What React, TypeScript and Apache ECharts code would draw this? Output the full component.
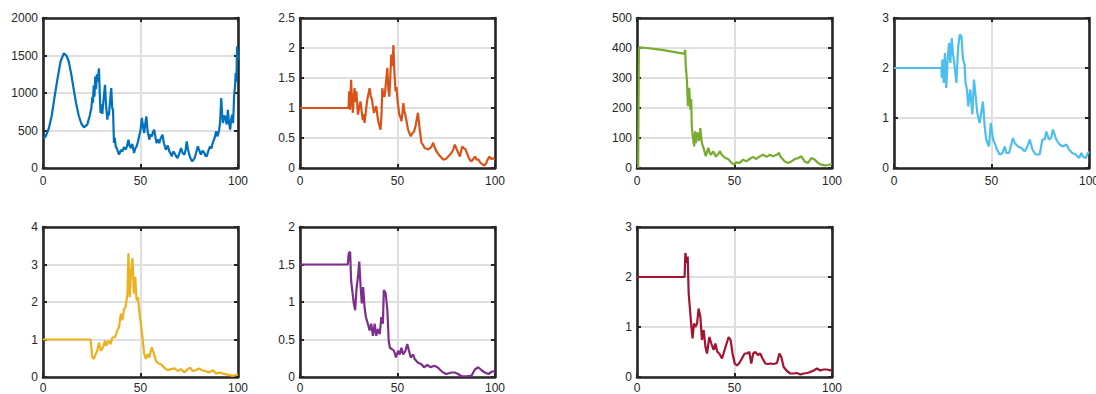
import React, { useEffect, useRef } from "react";
import * as echarts from "echarts";

const COLORS = ["#0072BD", "#D95319", "#77AC30", "#4DBEEE", "#EDB120", "#7E2F8E", "#A2142F"];
const Y_MAX = [2000, 2.5, 500, 3, 4, 2, 3];
const Y_STEP = [500, 0.5, 100, 1, 1, 0.5, 1];
const X_MIN = 0;
const X_MAX = 100;
const X_STEP = 50;

const S1 = [[0.3,390],[1.5,430],[3,530],[4.5,700],[6,960],[7.5,1200],[9,1420],[10.7,1530],[12,1500],[13.2,1420],[14.5,1250],[15.8,1040],[17,860],[18.4,690],[19.7,590],[21,542],[22.7,578],[24,700],[24.8,800],[25.3,950],[25.6,870],[26,1100],[26.4,950],[26.8,1220],[27.2,1050],[27.6,1250],[28,1150],[28.7,1330],[29.1,1000],[29.5,733],[30,850],[30.4,720],[31,900],[31.8,1110],[32.3,850],[33,644],[33.4,750],[33.8,700],[34.4,900],[35,1066],[35.5,800],[35.9,777],[36.4,333],[36.8,400],[37.3,289],[38,250],[39,178],[40,240],[40.7,222],[41.5,280],[42.4,244],[43.2,300],[43.8,378],[44.4,300],[45,267],[45.8,320],[46.7,200],[47.3,260],[48,289],[48.7,350],[49.3,422],[50,500],[50.7,667],[51.3,550],[51.9,467],[52.5,600],[53,689],[53.6,500],[54.5,378],[55.2,450],[55.8,420],[56.4,480],[57,511],[57.6,420],[58.2,333],[59,380],[59.6,330],[60.4,400],[61.3,444],[62,330],[63,244],[64,300],[64.8,222],[65.5,190],[66,156],[66.8,220],[67.4,200],[68.2,160],[69,133],[70,200],[70.8,267],[71.6,200],[72.5,178],[73.2,250],[73.7,356],[74.3,250],[75,178],[75.8,120],[76.5,89],[77.2,110],[77.7,130],[78.5,200],[79.4,289],[80.2,230],[81,178],[81.8,230],[82.8,200],[83.4,160],[84,156],[84.8,230],[85.7,289],[86.4,260],[87,333],[88,400],[88.8,489],[89.5,420],[90.2,489],[90.8,600],[91.4,933],[91.9,700],[92.3,600],[93,700],[93.6,667],[94.2,580],[94.8,777],[95.4,600],[96,511],[96.5,650],[97,711],[97.5,600],[98,955],[98.5,1100],[98.8,1266],[99.2,1150],[99.5,1622],[100,1444]];

const S2 = [[0,1],[24.9,1],[25.2,1.28],[25.6,0.97],[26.2,1.47],[26.7,1.1],[27.1,0.92],[27.6,1.2],[28,1.33],[28.5,1.1],[28.9,1.28],[29.7,0.89],[30.3,1.0],[31,1.11],[31.6,0.95],[32.2,0.8],[32.6,0.9],[33.1,0.75],[33.8,0.95],[34.5,1.14],[35.7,1.33],[36.3,1.2],[36.9,1.14],[37.9,0.92],[38.5,0.98],[39.1,1.03],[39.8,0.85],[40.3,0.75],[41.3,0.64],[41.8,0.9],[42.2,1.33],[42.8,1.2],[43.4,1.19],[44,1.4],[44.8,1.67],[45.3,1.3],[45.8,1.19],[46.3,1.5],[46.8,1.89],[47.4,1.7],[47.9,2.05],[48.4,1.6],[49,1.28],[49.5,1.35],[50,1.14],[50.9,0.89],[51.5,0.85],[52,0.78],[52.5,0.9],[53,1.08],[53.5,0.95],[54,0.89],[54.8,0.75],[55.4,0.64],[56.1,0.58],[56.8,0.53],[57.6,0.58],[58.4,0.6],[59.2,0.69],[60.5,0.92],[61.4,0.64],[62.3,0.42],[63.2,0.38],[64,0.33],[65,0.32],[65.8,0.31],[66.7,0.33],[67.5,0.36],[68.3,0.42],[69,0.35],[70,0.28],[71.2,0.22],[72,0.19],[73.4,0.14],[74.8,0.15],[76,0.19],[77.6,0.25],[78.5,0.3],[79.4,0.39],[80.1,0.33],[80.8,0.28],[82,0.19],[83.2,0.36],[84,0.33],[84.9,0.31],[86.3,0.19],[87.2,0.13],[88,0.11],[89.7,0.19],[90.6,0.14],[91.5,0.14],[92.7,0.08],[94.5,0.04],[95.5,0.08],[96.2,0.14],[97.2,0.19],[98,0.15],[99,0.16],[100,0.15]];

const S3 = [[0.6,0],[1,402],[5,400],[12.8,394],[18,388],[23.9,381],[24.4,385],[24.7,394],[25,340],[25.6,294],[26.1,206],[26.4,260],[26.8,267],[27.4,194],[27.8,230],[28.1,139],[28.6,106],[29.3,72],[29.8,122],[30.3,83],[30.7,115],[31.2,117],[31.8,90],[32.5,133],[32.8,110],[33.3,83],[34.1,67],[35.3,39],[36,55],[36.6,67],[37.3,50],[38,44],[39,55],[39.6,50],[40.3,38],[41.5,45],[42.6,56],[43.4,44],[44.4,38],[45.5,33],[47,28],[48.5,17],[49.8,11],[50.9,19],[52.6,17],[54.5,28],[56,22],[57.8,30],[59.6,37],[61,30],[63,39],[64.7,44],[66.4,37],[68,44],[69.8,39],[71.6,44],[72.9,50],[73.5,38],[74.2,33],[75.8,22],[77.5,17],[79.2,22],[81,30],[82.6,33],[84.3,39],[86,22],[87.7,17],[89.4,33],[91.1,28],[92.8,17],[94.5,11],[96.2,9],[97.9,10],[100,13]];

const S4 = [[0,2],[24.3,2],[24.5,1.8],[24.8,2.17],[25.5,1.7],[26.1,2.3],[26.8,1.6],[27.5,2.17],[28.2,2.5],[28.9,2.1],[29.6,2.6],[30.3,2.27],[31.1,2.03],[32,1.7],[32.8,2.37],[33.7,2.67],[34.6,2.63],[35.4,2.17],[36.2,2.07],[36.7,1.7],[37.4,1.57],[38.1,1.23],[39.1,1.57],[40.2,1.07],[41,1.77],[41.9,1.43],[42.7,1.1],[43.9,0.9],[44.7,1.1],[45.6,1.33],[46.5,0.83],[47.3,0.57],[48.7,0.43],[49.6,0.9],[50.8,0.57],[51.6,0.5],[52.8,0.37],[54.2,0.27],[55.6,0.3],[56.8,0.43],[57.6,0.3],[59,0.3],[61,0.6],[61.9,0.5],[63.6,0.43],[65.3,0.4],[67,0.33],[68.4,0.43],[69.6,0.57],[71,0.37],[72.6,0.27],[74.7,0.27],[76.1,0.57],[77.3,0.57],[78.1,0.73],[79.4,0.57],[80.6,0.6],[81.5,0.77],[83.2,0.57],[84.9,0.47],[86.6,0.43],[88.4,0.47],[89.7,0.37],[91.4,0.3],[93.2,0.27],[94.9,0.2],[96.1,0.3],[96.9,0.23],[98.3,0.2],[99.5,0.3],[100,0.33]];

const S5 = [[0,1],[24.4,1],[25.3,0.52],[26.1,0.48],[27,0.61],[27.8,0.7],[28.7,0.92],[29.6,0.7],[30.8,0.79],[31.8,0.97],[32.5,0.83],[33.5,0.97],[34.7,0.88],[35.6,1.06],[37,1.06],[38.1,1.24],[39,1.33],[39.9,1.69],[40.7,1.51],[41.6,1.82],[42.4,1.87],[43.3,2.22],[43.8,3.3],[44.5,2.13],[45.2,2.85],[45.9,3.17],[46.6,2.22],[47.3,2.67],[48,2.04],[48.7,2.13],[49.3,1.78],[50.2,1.42],[51,1.06],[51.9,0.61],[52.8,0.48],[53.6,0.61],[54.5,0.52],[55.8,0.79],[57,0.61],[57.9,0.43],[59.3,0.36],[60.5,0.34],[62.2,0.25],[63.9,0.18],[65.6,0.21],[67.4,0.23],[69.1,0.16],[70.8,0.21],[72.5,0.12],[74.2,0.21],[75.4,0.25],[76.8,0.16],[78.5,0.18],[79.9,0.23],[81.6,0.18],[83.3,0.16],[85,0.12],[87.1,0.18],[88.8,0.09],[90.5,0.12],[92.3,0.09],[94,0.07],[95.7,0.05],[97.4,0.03],[98.8,0.05],[100,0.07]];

const S6 = [[0,1.5],[24.5,1.5],[25,1.65],[25.7,1.67],[26.2,1.29],[27,1.11],[27.6,0.98],[28.3,0.89],[29,1.18],[29.7,1.33],[30.4,1.54],[31.1,1.2],[31.7,0.98],[32.4,1.2],[33.1,0.93],[33.8,0.8],[34.8,0.71],[35.7,0.62],[36.5,0.71],[37.4,0.55],[38.3,0.71],[39.1,0.55],[40,0.64],[40.9,0.57],[41.7,0.8],[42.5,0.71],[43,1.16],[43.9,1.12],[44.8,0.89],[45.5,0.48],[46.1,0.39],[47.2,0.37],[48.2,0.35],[49.2,0.26],[50.3,0.35],[51.1,0.3],[52,0.39],[52.9,0.3],[54.1,0.35],[55,0.44],[55.9,0.35],[56.8,0.26],[58,0.3],[58.8,0.24],[60.5,0.19],[62.3,0.17],[63.6,0.13],[65.3,0.16],[67,0.13],[68.8,0.15],[70.5,0.13],[71.7,0.1],[73.4,0.06],[75.1,0.04],[77.7,0.06],[79.4,0.06],[81.1,0.04],[82.8,0.01],[85.4,0.01],[88,0.02],[89.7,0.1],[91.4,0.13],[93.1,0.09],[94.8,0.06],[96.6,0.04],[98.3,0.07],[100,0.08]];

const S7 = [[0,2],[24.4,2],[24.8,2.48],[25.5,2.28],[26,2.41],[26.5,1.67],[27.2,1.34],[27.9,1.0],[28.5,0.77],[29.2,1.07],[29.9,1.0],[30.8,1.07],[31.6,1.37],[32.5,1.2],[33.3,0.74],[34.2,0.94],[35.1,0.6],[35.9,0.47],[37.1,0.8],[38.1,0.67],[39.3,0.54],[40.2,0.67],[41.2,0.5],[42.2,0.47],[43.6,0.37],[44.9,0.54],[46.2,0.7],[47,0.8],[48,0.74],[49,0.47],[50.1,0.27],[51.3,0.23],[52.5,0.28],[53.8,0.37],[55.2,0.47],[56.4,0.47],[57.6,0.5],[58.6,0.27],[59.6,0.47],[60.7,0.5],[62,0.44],[63.2,0.47],[64.4,0.37],[65.8,0.27],[67.2,0.26],[68.4,0.27],[70.1,0.26],[71.8,0.28],[73,0.47],[74,0.4],[75.2,0.2],[76.9,0.12],[78.6,0.07],[80.3,0.07],[82,0.08],[83.8,0.05],[85.5,0.07],[87.2,0.08],[88.9,0.1],[90.6,0.13],[92.3,0.17],[94,0.13],[95.7,0.15],[97.4,0.15],[99.1,0.13],[100,0.15]];

const SERIES = [S1, S2, S3, S4, S5, S6, S7];

// layout (pixels)
const PANEL_POS = [
  [43, 18], [300, 18], [637, 18], [894, 18],
  [43, 227], [300, 227], [637, 227],
];
const LABEL_MARGIN = [7, 7, 7, 7, 5, 5, 5];
const PW = 195;
const PH = 150;

const FONT = "'Liberation Sans', Arial, Helvetica, sans-serif";
const DARK = "#262626";
const GRIDC = "#dfdfdf";

const fmt = (v: number) => String(v);

function buildOption() {
  const grid: any[] = [];
  const xAxis: any[] = [];
  const yAxis: any[] = [];
  const series: any[] = [];
  PANEL_POS.forEach((p, i) => {
    grid.push({
      left: p[0], top: p[1], width: PW, height: PH,
      containLabel: false, outerBoundsMode: "none",
    });
    const lineStyle = { color: DARK, width: 2.6 };
    const tick = { show: true, inside: true, length: 4, lineStyle: { color: DARK, width: 2 } };
    xAxis.push({
      gridIndex: i, type: "value", min: X_MIN, max: X_MAX, interval: X_STEP, position: "bottom",
      axisLine: { show: true, onZero: false, lineStyle },
      axisTick: tick,
      axisLabel: { color: DARK, fontSize: 12, margin: LABEL_MARGIN[i], fontFamily: FONT, formatter: fmt },
      splitLine: { show: true, lineStyle: { color: GRIDC, width: 2 } },
    });
    xAxis.push({
      gridIndex: i, type: "value", min: X_MIN, max: X_MAX, interval: X_STEP, position: "top",
      axisLine: { show: true, onZero: false, lineStyle },
      axisTick: tick,
      axisLabel: { show: false },
      splitLine: { show: false },
    });
    yAxis.push({
      gridIndex: i, type: "value", min: 0, max: Y_MAX[i], interval: Y_STEP[i], position: "left",
      axisLine: { show: true, onZero: false, lineStyle },
      axisTick: tick,
      axisLabel: { color: DARK, fontSize: 12, margin: 5, fontFamily: FONT, formatter: fmt },
      splitLine: { show: true, lineStyle: { color: GRIDC, width: 2 } },
    });
    yAxis.push({
      gridIndex: i, type: "value", min: 0, max: Y_MAX[i], interval: Y_STEP[i], position: "right",
      axisLine: { show: true, onZero: false, lineStyle },
      axisTick: tick,
      axisLabel: { show: false },
      splitLine: { show: false },
    });
    series.push({
      type: "line",
      xAxisIndex: i * 2,
      yAxisIndex: i * 2,
      data: SERIES[i],
      showSymbol: false,
      symbol: "none",
      clip: true,
      lineStyle: { color: COLORS[i], width: 2.2 },
      z: 1,
    });
  });
  return { animation: false, backgroundColor: "#ffffff", grid, xAxis, yAxis, series };
}

export default function App() {
  const ref = useRef<HTMLDivElement>(null);
  useEffect(() => {
    document.body.style.margin = "0";
    document.body.style.overflow = "hidden";
    document.documentElement.style.overflow = "hidden";
    const chart = echarts.init(ref.current!, null, { renderer: "svg" });
    chart.setOption(buildOption() as any);
    return () => chart.dispose();
  }, []);
  return (
    <div
      ref={ref}
      style={{ position: "fixed", left: 0, top: 0, width: 1096, height: 394, overflow: "hidden" }}
    />
  );
}
